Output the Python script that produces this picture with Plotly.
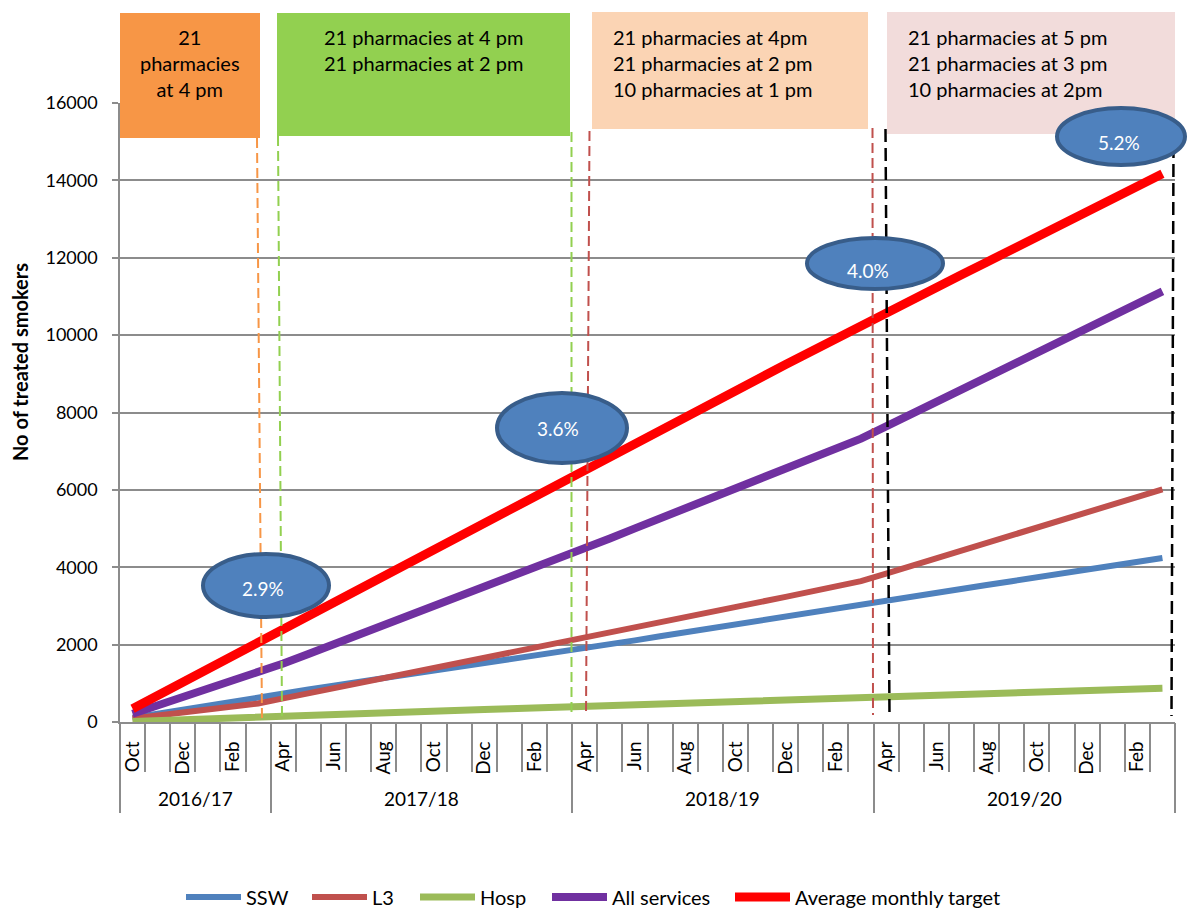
import plotly.graph_objects as go

# ---------------- data ----------------
month_names = ["Oct", "Nov", "Dec", "Jan", "Feb", "Mar",
               "Apr", "May", "Jun", "Jul", "Aug", "Sep", "Oct", "Nov", "Dec", "Jan", "Feb", "Mar",
               "Apr", "May", "Jun", "Jul", "Aug", "Sep", "Oct", "Nov", "Dec", "Jan", "Feb", "Mar",
               "Apr", "May", "Jun", "Jul", "Aug", "Sep", "Oct", "Nov", "Dec", "Jan", "Feb", "Mar"]
years = ["2016/17", "2017/18", "2018/19", "2019/20"]
year_lengths = [6, 12, 12, 12]

ssw = [110, 220, 325, 435, 540, 650,
       745, 840, 940, 1035, 1130, 1225, 1320, 1420, 1515, 1610, 1705, 1800,
       1905, 2010, 2110, 2215, 2320, 2420, 2525, 2625, 2730, 2830, 2935, 3040,
       3140, 3240, 3340, 3440, 3540, 3640, 3740, 3840, 3940, 4040, 4140, 4240]
l3 = [90, 170, 245, 325, 400, 480,
      610, 740, 865, 995, 1125, 1255, 1385, 1510, 1640, 1770, 1900, 2030,
      2165, 2300, 2430, 2565, 2700, 2835, 2970, 3100, 3235, 3370, 3505, 3640,
      3835, 4035, 4230, 4430, 4630, 4825, 5025, 5220, 5420, 5620, 5815, 6015]
hosp = [15, 40, 65, 90, 115, 140,
        160, 180, 200, 225, 245, 265, 285, 305, 325, 345, 365, 388,
        407, 426, 445, 464, 483, 502, 521, 540, 559, 578, 597, 616,
        638, 660, 680, 700, 725, 745, 765, 790, 810, 830, 855, 875]
all_services = [215, 425, 635, 845, 1055, 1265,
                1510, 1760, 2005, 2255, 2500, 2745, 2995, 3240, 3490, 3735, 3980, 4230,
                4485, 4745, 5005, 5260, 5520, 5775, 6035, 6295, 6550, 6810, 7065, 7325,
                7640, 7960, 8275, 8595, 8910, 9225, 9545, 9860, 10180, 10495, 10810, 11130]
target = [345, 690, 1035, 1380, 1720, 2065,
          2410, 2750, 3095, 3440, 3780, 4125, 4465, 4810, 5150, 5495, 5840, 6180,
          6520, 6860, 7200, 7540, 7880, 8220, 8560, 8900, 9240, 9580, 9920, 10260,
          10585, 10910, 11235, 11560, 11885, 12210, 12535, 12860, 13185, 13510, 13840, 14170]

series_names = ["SSW", "L3", "Hosp", "All services", "Average monthly target"]
series_values = [ssw, l3, hosp, all_services, target]
series_colors = ["#4F81BD", "#C0504D", "#9BBB59", "#7030A0", "#FF0000"]
series_widths = [6, 6, 7, 8, 9]

box_texts = ["21<br>pharmacies<br>at 4 pm",
             "21 pharmacies at 4 pm<br>21 pharmacies at 2 pm",
             "21 pharmacies at 4pm<br>21 pharmacies at 2 pm<br>10 pharmacies at 1 pm",
             "21 pharmacies at 5 pm<br>21 pharmacies at 3 pm<br>10 pharmacies at 2pm"]
rate_labels = ["2.9%", "3.6%", "4.0%", "5.2%"]

# ---------------- geometry helpers (pixels -> paper) ----------------
W, H = 1187, 912
ML, MR, MT, MB = 120, 12, 103, 190
PW, PH = W - ML - MR, H - MT - MB


def px(x):
    return (x - ML) / PW


def py(y):
    return (H - MB - y) / PH


FONT = "Lato, Carlito, 'Open Sans', sans-serif"
GRID = "#8C8C8C"

n = len(month_names)
xs = list(range(n))

legend_ids = ["legend", "legend2", "legend3", "legend4", "legend5"]
legend_line_starts = [186, 312, 420, 552, 735]

fig = go.Figure()
for name, vals, col, w, lid in zip(series_names, series_values, series_colors,
                                   series_widths, legend_ids):
    fig.add_trace(go.Scatter(x=xs, y=vals, mode="lines", name=name, legend=lid,
                             line=dict(color=col, width=w)))
# invisible helper trace for the secondary (category-divider) axis
fig.add_trace(go.Scatter(x=[0], y=[0], xaxis="x2", mode="markers",
                         marker=dict(opacity=0), showlegend=False, hoverinfo="skip"))

# year boundaries and centres
bounds = [-0.5]
for L in year_lengths:
    bounds.append(bounds[-1] + L)
year_centres = [(bounds[i] + bounds[i + 1]) / 2 for i in range(len(years))]

shapes = []
# header boxes
box_geo = [(120, 260, 13, 138, "#F79646"),
           (277, 570, 13, 136, "#92D050"),
           (592, 868, 12, 129, "#FBD4B4"),
           (887, 1175, 12, 134, "#F2DCDB")]
for x0, x1, y0, y1, c in box_geo:
    shapes.append(dict(type="rect", xref="paper", yref="paper",
                       x0=px(x0), x1=px(x1), y0=py(y1), y1=py(y0),
                       fillcolor=c, line=dict(width=0), layer="above"))

# dashed marker lines
dash_geo = [((257, 138), (262, 720), "#F79646", 2, "10px,5px"),
            ((278, 136), (282, 716), "#92D050", 2, "10px,5px"),
            ((571.5, 132), (571.5, 712), "#92D050", 2, "10px,5px"),
            ((589.5, 131), (586, 716), "#C0504D", 2, "10px,5px"),
            ((872.5, 128), (873, 715), "#C0504D", 2, "10px,5px"),
            ((885.5, 129), (889.5, 716), "#000000", 2.5, "13px,6px"),
            ((1173.5, 145), (1171.5, 716), "#000000", 2.5, "13px,6px")]
for (x0, y0), (x1, y1), c, w, d in dash_geo:
    shapes.append(dict(type="line", xref="paper", yref="paper",
                       x0=px(x0), y0=py(y0), x1=px(x1), y1=py(y1),
                       line=dict(color=c, width=w, dash=d), layer="above"))

# rate ellipses
ell_geo = [(203, 329, 554, 617), (497, 627, 393, 463), (807, 943, 238, 289), (1057, 1185, 108, 165)]
for x0, x1, y0, y1 in ell_geo:
    shapes.append(dict(type="circle", xref="paper", yref="paper",
                       x0=px(x0), x1=px(x1), y0=py(y1), y1=py(y0),
                       fillcolor="#4F81BD", line=dict(color="#385D8A", width=4), layer="above"))

annotations = []
# box texts
box_txt_geo = [(190, 63, "center"), (423, 50, "center"), (611, 63, "left"), (906, 63, "left")]
for (tx, ty, al), t in zip(box_txt_geo, box_texts):
    annotations.append(dict(xref="paper", yref="paper", x=px(tx), y=py(ty), text=t,
                            showarrow=False, xanchor="center" if al == "center" else "left",
                            yanchor="middle", align=al,
                            font=dict(family=FONT, size=20, color="#000000")))
# ellipse labels
ell_txt = [(263, 588), (558, 428), (868, 270), (1119, 142)]
for (tx, ty), t in zip(ell_txt, rate_labels):
    annotations.append(dict(xref="paper", yref="paper", x=px(tx), y=py(ty), text=t,
                            showarrow=False, xanchor="center", yanchor="middle",
                            font=dict(family=FONT, size=19, color="#FFFFFF")))
# year labels
for xc, t in zip(year_centres, years):
    annotations.append(dict(xref="x", yref="paper", x=xc, y=py(798), text=t,
                            showarrow=False, xanchor="center", yanchor="middle",
                            font=dict(family=FONT, size=19, color="#000000")))
# y-axis title
annotations.append(dict(xref="paper", yref="paper", x=px(20), y=py(362),
                        text="<b>No of treated smokers</b>", textangle=-90,
                        showarrow=False, xanchor="center", yanchor="middle",
                        font=dict(family=FONT, size=20, color="#000000")))

label_idx = [i for i in xs if i % 2 == 0]

legends = {}
for lid, xs0 in zip(legend_ids, legend_line_starts):
    legends[lid] = dict(orientation="h", x=px(xs0 - 5), xanchor="left",
                        y=py(897), yanchor="middle",
                        font=dict(family=FONT, size=20, color="#000000"),
                        itemwidth=55, bgcolor="rgba(0,0,0,0)", borderwidth=0)

fig.update_layout(
    width=W, height=H,
    margin=dict(l=ML, r=MR, t=MT, b=MB, autoexpand=False),
    plot_bgcolor="white", paper_bgcolor="white",
    font=dict(family=FONT, color="#000000"),
    shapes=shapes, annotations=annotations,
    showlegend=True,
    xaxis=dict(range=[-0.5, n - 0.5], tickmode="array", tickvals=label_idx,
               ticktext=[month_names[i] for i in label_idx], tickangle=-90,
               ticks="outside", ticklen=0, tickcolor=GRID,
               tickfont=dict(family=FONT, size=19, color="#000000"),
               ticklabelstandoff=10,
               showgrid=False, zeroline=False, showline=True, linecolor=GRID, linewidth=1.5,
               minor=dict(ticks="outside", tick0=-0.5, dtick=1, ticklen=48,
                          tickcolor=GRID, tickwidth=1.5, showgrid=False)),
    xaxis2=dict(range=[-0.5, n - 0.5], overlaying="x", anchor="y", side="bottom",
                tickmode="array", tickvals=bounds, ticktext=[""] * len(bounds),
                ticks="outside", ticklen=90, tickcolor=GRID, tickwidth=1.5,
                showgrid=False, zeroline=False, showline=False, showticklabels=False),
    yaxis=dict(range=[0, 16000], dtick=2000, tickformat="d", showgrid=True,
               gridcolor=GRID, gridwidth=1.5,
               ticks="outside", ticklen=6, tickcolor=GRID, tickwidth=1.5,
               ticklabelstandoff=11,
               showline=True, linecolor=GRID, linewidth=1.5, zeroline=False,
               tickfont=dict(family=FONT, size=18, color="#000000")),
    **legends,
)

fig.write_html("out.html")
